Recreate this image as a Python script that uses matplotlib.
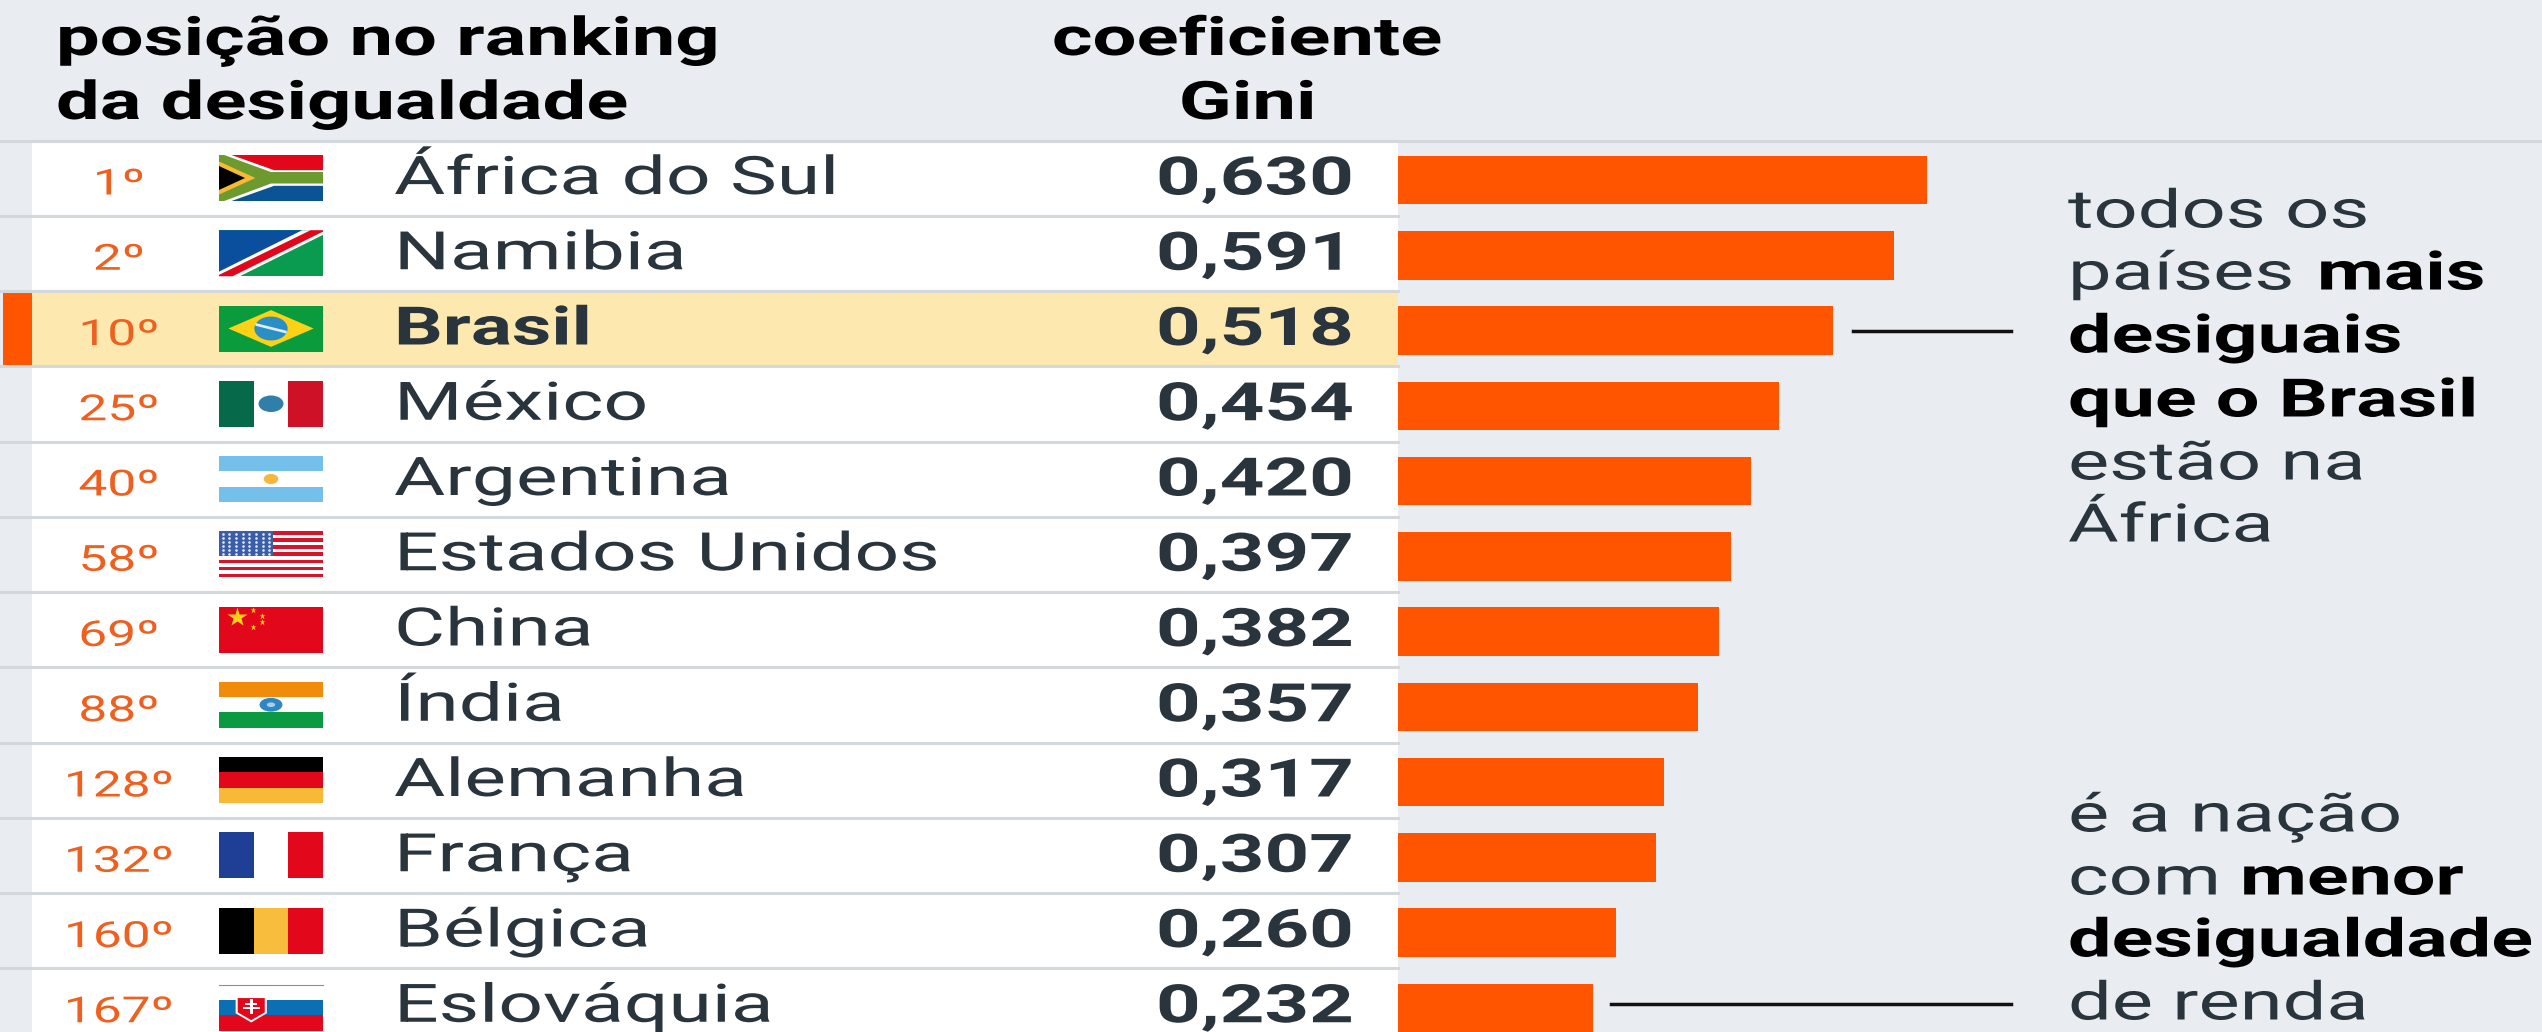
import matplotlib
matplotlib.use("Agg")
import matplotlib.pyplot as plt
import matplotlib.patheffects as pe
from matplotlib.patches import Rectangle, Polygon, Ellipse
from matplotlib.transforms import Affine2D

ranks = ["1º", "2º", "10º", "25º", "40º", "58º", "69º", "88º", "128º", "132º", "160º", "167º"]
countries = ["África do Sul", "Namibia", "Brasil", "México", "Argentina", "Estados Unidos",
             "China", "Índia", "Alemanha", "França", "Bélgica", "Eslováquia"]
gini = [0.630, 0.591, 0.518, 0.454, 0.420, 0.397, 0.382, 0.357, 0.317, 0.307, 0.260, 0.232]
flags = ["za", "na", "br", "mx", "ar", "us", "cn", "in", "de", "fr", "be", "sk"]

BG = "#e9ecf0"; SEP = "#d3d8dd"; ORANGE = "#ff5500"; HI = "#fde8b0"
DARK = "#29343d"; RANK = "#ee6020"
FONT = "Roboto"
SIZE = 53
SX = 1.482
PX = 0.72  # px to pt at dpi 100
W, H = 2542, 1032
TOP = 140.5; PITCH = 75.25


class HStretch(pe.AbstractPathEffect):
    """Widen glyph outlines, the reference is stretched horizontally."""
    def __init__(self, sx, anchor=0.0):
        super().__init__()
        self.sx = sx; self.anchor = anchor

    def draw_path(self, renderer, gc, tpath, affine, rgbFace=None):
        w = tpath.vertices[:, 0].max() if len(tpath.vertices) else 0
        a = self.anchor * w
        t = Affine2D().translate(-a, 0).scale(self.sx, 1).translate(a, 0) + affine
        renderer.draw_path(gc, tpath, t, rgbFace)


fig = plt.figure(figsize=(W / 100, H / 100), dpi=100, facecolor=BG)
ax = fig.add_axes([0, 0, 1, 1], zorder=1)
ax.set_xlim(0, W); ax.set_ylim(H, 0); ax.axis("off")


def txt(x, y, s, size=SIZE, weight="normal", color=DARK, ha="left", sx=SX):
    anchor = {"left": 0.0, "center": 0.5, "right": 1.0}[ha]
    ax.text(x, y, s, fontsize=size * PX, fontweight=weight, color=color, ha=ha, va="baseline",
            family=FONT, path_effects=[HStretch(sx, anchor)], zorder=6)


# Table rows
X0, X1 = 32, 1398
ax.add_patch(Rectangle((X0, TOP), X1 - X0, H - TOP, fc="white", ec="none", zorder=1))
ib = countries.index("Brasil")
ax.add_patch(Rectangle((X0, TOP + ib * PITCH), X1 - X0, PITCH, fc=HI, ec="none", zorder=1.5))
ax.add_patch(Rectangle((3, TOP + ib * PITCH), X0 - 3, PITCH, fc=ORANGE, ec="none", zorder=1.5))
ax.plot([0, W], [TOP, TOP], color=SEP, lw=2.2, zorder=2)
for i in range(1, len(countries)):
    y = TOP + i * PITCH
    ax.plot([0, X1], [y, y], color=SEP, lw=2.2, zorder=2)


# Flags
FX, FW, FH = 219, 104, 46


def poly(x, y, pts, c, z=4):
    ax.add_patch(Polygon([(x + a * FW, y + b * FH) for a, b in pts], fc=c, ec="none", zorder=z))


def rect(x, y, a, b, w, h, c, z=4):
    ax.add_patch(Rectangle((x + a * FW, y + b * FH), w * FW, h * FH, fc=c, ec="none", zorder=z))


def hbands(x, y, cols):
    n = len(cols)
    for k, c in enumerate(cols):
        rect(x, y, 0, k / n, 1, 1 / n, c)


def vbands(x, y, cols):
    n = len(cols)
    for k, c in enumerate(cols):
        rect(x, y, k / n, 0, 1 / n, 1, c)


def ell(x, y, a, b, ra, rb, c, z=5):
    ax.add_patch(Ellipse((x + a * FW, y + b * FH), 2 * ra * FW, 2 * rb * FH, fc=c, ec="none", zorder=z))


def stars(x, y, pts, size, c="#fcd116"):
    ax.plot([x + a * FW for a, b in pts], [y + b * FH for a, b in pts], ls="none", marker="*",
            ms=size, mfc=c, mec="none", zorder=5)


def draw_flag(code, x, y):
    if code == "za":
        rect(x, y, 0, .5, 1, .5, "#0b5394")
        rect(x, y, 0, 0, 1, .5, "#e2071a")
        poly(x, y, [(0, 0), (.12, 0), (.53, .33), (1, .33), (1, .67), (.53, .67), (.12, 1), (0, 1)], "#ffffff", 4.1)
        poly(x, y, [(0, 0), (.05, 0), (.5, .37), (1, .37), (1, .62), (.5, .62), (.05, 1), (0, 1)], "#6d9a2e", 4.2)
        poly(x, y, [(0, .14), (.35, .5), (0, .86)], "#f8b936", 4.3)
        poly(x, y, [(0, .24), (.25, .5), (0, .76)], "#000000", 4.4)
    elif code == "na":
        rect(x, y, 0, 0, 1, 1, "#0a9b50")
        poly(x, y, [(0, 0), (.8, 0), (0, 1)], "#0a4f9e", 4.1)
        poly(x, y, [(.8, 0), (1, 0), (1, .1), (.2, 1), (0, 1), (0, .9)], "#ffffff", 4.2)
        poly(x, y, [(.88, 0), (1, 0), (1, .03), (.13, 1), (0, 1), (0, .97)], "#e2071a", 4.3)
    elif code == "br":
        rect(x, y, 0, 0, 1, 1, "#0a9b3c")
        poly(x, y, [(.5, .1), (.91, .5), (.5, .9), (.09, .5)], "#fcd116", 4.1)
        ell(x, y, .5, .5, .16, .26, "#2a8fc4")
        poly(x, y, [(.35, .38), (.65, .55), (.65, .61), (.35, .44)], "#dfeef5", 5.1)
    elif code == "mx":
        vbands(x, y, ["#06694a", "#ffffff", "#ce1126"])
        ell(x, y, .5, .5, .12, .18, "#2f7fa8")
    elif code == "ar":
        hbands(x, y, ["#75c0ea", "#ffffff", "#75c0ea"])
        ell(x, y, .5, .5, .07, .11, "#f6b73c")
    elif code == "us":
        hbands(x, y, ["#d8142a" if k % 2 == 0 else "#ffffff" for k in range(13)])
        rect(x, y, 0, 0, .52, 7 / 13, "#3a5fa8", 4.5)
        for r in range(6):
            for c in range(8):
                ax.plot(x + (.035 + c * .064) * FW, y + (.05 + r * .088) * FH, marker="o", ms=1.9,
                        mfc="#dfe6f3", mec="none", zorder=5)
    elif code == "cn":
        rect(x, y, 0, 0, 1, 1, "#e2071a")
        stars(x, y, [(.17, .23)], 15)
        stars(x, y, [(.33, .08), (.41, .2), (.41, .34), (.33, .44)], 5)
    elif code == "in":
        hbands(x, y, ["#f08c0a", "#ffffff", "#0a9b42"])
        ell(x, y, .5, .5, .11, .15, "#2f86c5")
        ell(x, y, .5, .5, .04, .05, "#a9d0ea", 5.1)
    elif code == "de":
        hbands(x, y, ["#000000", "#e2071a", "#f8b936"])
    elif code == "fr":
        vbands(x, y, ["#1f3f96", "#ffffff", "#e2071a"])
    elif code == "be":
        vbands(x, y, ["#000000", "#f8bd3c", "#e2071a"])
    elif code == "sk":
        hbands(x, y, ["#ffffff", "#0a6fb5", "#e2071a"])
        ax.plot([x, x + FW], [y, y], color="#8a8f94", lw=0.8, zorder=4.2)
        poly(x, y, [(.16, .26), (.46, .26), (.46, .62), (.31, .82), (.16, .62)], "#ffffff", 4.5)
        poly(x, y, [(.18, .29), (.44, .29), (.44, .6), (.31, .77), (.18, .6)], "#e2071a", 4.6)
        rect(x, y, .295, .32, .03, .32, "#ffffff", 4.7)
        rect(x, y, .25, .39, .12, .04, "#ffffff", 4.7)
        rect(x, y, .23, .48, .16, .04, "#ffffff", 4.7)


for i, (rk, name, val, code) in enumerate(zip(ranks, countries, gini, flags)):
    top = TOP + i * PITCH
    txt(118.5, top + 54, rk, size=36, color=RANK, ha="center", sx=1.43)
    draw_flag(code, FX, top + 14.5 if code != "sk" else top + 16.5)
    bold = name == "Brasil"
    txt(394, top + 53.5, name, weight="bold" if bold else "normal", sx=1.445 if bold else SX)
    txt(1156, top + 54, f"{val:.3f}".replace(".", ","), weight="bold", sx=1.47)

# Bars, on their own value scale
ax_b = fig.add_axes([X1 / W, 0, (W - X1) / W, 1], zorder=2)
ax_b.patch.set_alpha(0)
ax_b.set_xlim(0, (W - X1) / 840)
ax_b.set_ylim((H - TOP - 39.5) / PITCH, (0 - TOP - 39.5) / PITCH)
ax_b.axis("off")
ax_b.barh(range(len(gini)), gini, height=48.5 / PITCH, color=ORANGE, linewidth=0)

# Headers
txt(56, 55, "posição no ranking", weight="bold", color="black", sx=1.465)
txt(56, 119, "da desigualdade", weight="bold", color="black", sx=1.465)
txt(1247, 55, "coeficiente", weight="bold", color="black", ha="center", sx=1.468)
txt(1247, 119, "Gini", weight="bold", color="black", ha="center", sx=1.468)

# Notes
NX = 2068
BSX = 1.457
txt(NX, 227.5, "todos os", sx=1.465)
txt(NX, 289.5, "países", sx=1.465)
txt(2317, 289.5, "mais", weight="bold", color="black", sx=BSX)
txt(NX, 352.5, "desiguais", weight="bold", color="black", sx=BSX)
txt(NX, 416.5, "que o Brasil", weight="bold", color="black", sx=BSX)
txt(NX, 479.5, "estão na", sx=1.465)
txt(NX, 541.5, "África", sx=1.465)
txt(NX, 831.5, "é a nação", sx=1.465)
txt(NX, 894.5, "com", sx=1.465)
txt(2240, 894.5, "menor", weight="bold", color="black", sx=BSX)
txt(NX, 956.5, "desigualdade", weight="bold", color="black", sx=BSX)
txt(NX, 1019.5, "de renda", sx=1.465)
ax.plot([1853, 2011], [331, 331], color="#111111", lw=2.5, zorder=5)
ax.plot([1611, 2011], [1004, 1004], color="#111111", lw=2.5, zorder=5)

fig.savefig("out.png", dpi=100, facecolor=BG)
